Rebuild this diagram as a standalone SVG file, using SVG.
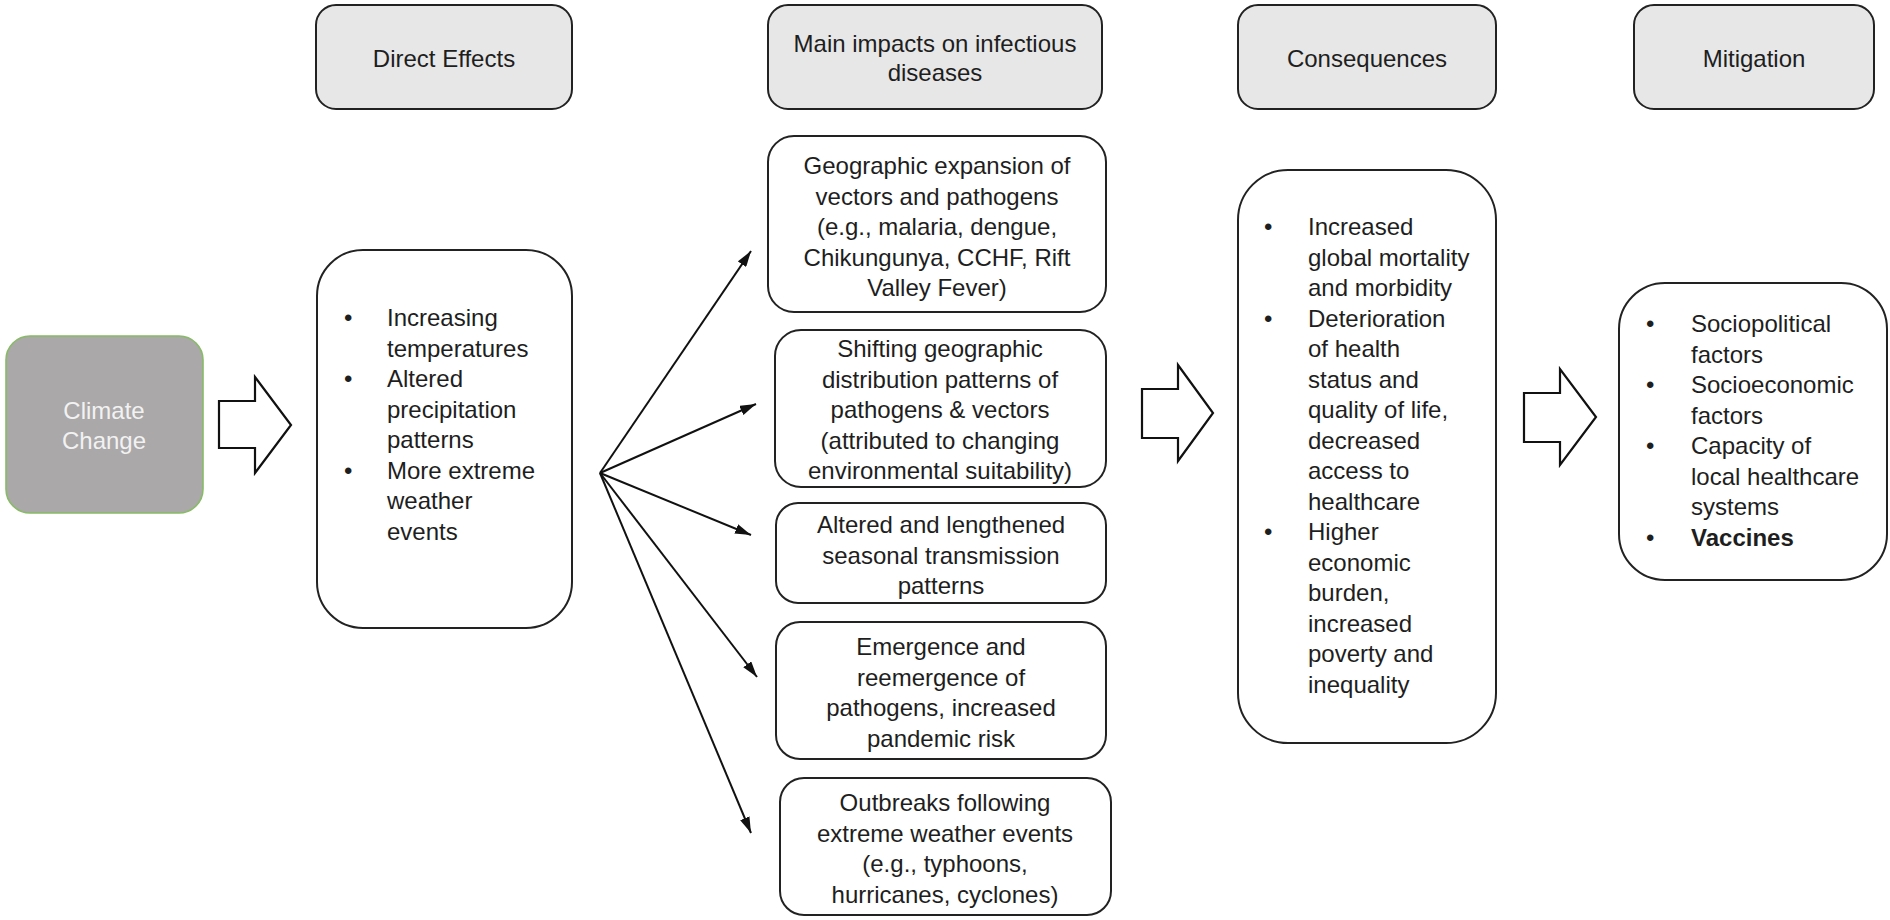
<svg xmlns="http://www.w3.org/2000/svg" width="1890" height="920" viewBox="0 0 1890 920">
<defs>
<style>
.t{font-family:"Liberation Sans",Arial,sans-serif;font-size:24px;fill:#1e1e1e}
.c{text-anchor:middle}
.hdr{fill:#e7e7e7;stroke:#222;stroke-width:2}
.box{fill:#fff;stroke:#222;stroke-width:2}
.big{fill:#fff;stroke:#222;stroke-width:2}
.hollow{fill:#fff;stroke:#111;stroke-width:2.2;stroke-linejoin:miter}
.ln{stroke:#111;stroke-width:2;fill:none}
</style>
<marker id="ah" viewBox="0 0 16 10" refX="16" refY="5" markerWidth="16" markerHeight="10" markerUnits="userSpaceOnUse" orient="auto">
<path d="M0,0 L16,5 L0,10 Z" fill="#111"/>
</marker>
</defs>
<rect width="1890" height="920" fill="#fff"/>

<g id="climate-change">
<rect x="6" y="336" width="197" height="177" rx="24" fill="#aaa8a9" stroke="#88bb66" stroke-width="1.6"/>
<text class="t c" x="104" y="419" style="fill:#f2f2f2">Climate</text>
<text class="t c" x="104" y="449" style="fill:#f2f2f2">Change</text>
</g>

<g id="hdr-direct">
<rect class="hdr" x="316" y="5" width="256" height="104" rx="20"/>
<text class="t c" x="444" y="67">Direct Effects</text>
</g>
<g id="hdr-impacts">
<rect class="hdr" x="768" y="5" width="334" height="104" rx="20"/>
<text class="t c" x="935" y="52">Main impacts on infectious</text>
<text class="t c" x="935" y="81">diseases</text>
</g>
<g id="hdr-consequences">
<rect class="hdr" x="1238" y="5" width="258" height="104" rx="20"/>
<text class="t c" x="1367" y="67">Consequences</text>
</g>
<g id="hdr-mitigation">
<rect class="hdr" x="1634" y="5" width="240" height="104" rx="20"/>
<text class="t c" x="1754" y="67">Mitigation</text>
</g>

<g id="direct-effects">
<rect class="big" x="317" y="250" width="255" height="378" rx="46"/>
<text class="t"><tspan x="344" y="326">•</tspan><tspan x="387" y="326">Increasing</tspan><tspan x="387" y="356.5">temperatures</tspan><tspan x="344" y="387">•</tspan><tspan x="387" y="387">Altered</tspan><tspan x="387" y="417.5">precipitation</tspan><tspan x="387" y="448">patterns</tspan><tspan x="344" y="478.5">•</tspan><tspan x="387" y="478.5">More extreme</tspan><tspan x="387" y="509">weather</tspan><tspan x="387" y="539.5">events</tspan></text>
</g>

<g id="impact-1">
<rect class="box" x="768" y="136" width="338" height="176" rx="26"/>
<text class="t c"><tspan x="937" y="174">Geographic expansion of</tspan><tspan x="937" y="204.5">vectors and pathogens</tspan><tspan x="937" y="235">(e.g., malaria, dengue,</tspan><tspan x="937" y="265.5">Chikungunya, CCHF, Rift</tspan><tspan x="937" y="296">Valley Fever)</tspan></text>
</g>
<g id="impact-2">
<rect class="box" x="775" y="330" width="331" height="157" rx="26"/>
<text class="t c"><tspan x="940" y="357">Shifting geographic</tspan><tspan x="940" y="387.5">distribution patterns of</tspan><tspan x="940" y="418">pathogens &amp; vectors</tspan><tspan x="940" y="448.5">(attributed to changing</tspan><tspan x="940" y="479">environmental suitability)</tspan></text>
</g>
<g id="impact-3">
<rect class="box" x="776" y="503" width="330" height="100" rx="22"/>
<text class="t c"><tspan x="941" y="533">Altered and lengthened</tspan><tspan x="941" y="563.5">seasonal transmission</tspan><tspan x="941" y="594">patterns</tspan></text>
</g>
<g id="impact-4">
<rect class="box" x="776" y="622" width="330" height="137" rx="24"/>
<text class="t c"><tspan x="941" y="655">Emergence and</tspan><tspan x="941" y="685.5">reemergence of</tspan><tspan x="941" y="716">pathogens, increased</tspan><tspan x="941" y="746.5">pandemic risk</tspan></text>
</g>
<g id="impact-5">
<rect class="box" x="780" y="778" width="331" height="137" rx="24"/>
<text class="t c"><tspan x="945" y="811">Outbreaks following</tspan><tspan x="945" y="842">extreme weather events</tspan><tspan x="945" y="872">(e.g., typhoons,</tspan><tspan x="945" y="903">hurricanes, cyclones)</tspan></text>
</g>

<g id="consequences">
<rect class="big" x="1238" y="170" width="258" height="573" rx="50"/>
<text class="t"><tspan x="1264" y="235">•</tspan><tspan x="1308" y="235">Increased</tspan><tspan x="1308" y="265.5">global mortality</tspan><tspan x="1308" y="296">and morbidity</tspan><tspan x="1264" y="326.5">•</tspan><tspan x="1308" y="326.5">Deterioration</tspan><tspan x="1308" y="357">of health</tspan><tspan x="1308" y="387.5">status and</tspan><tspan x="1308" y="418">quality of life,</tspan><tspan x="1308" y="448.5">decreased</tspan><tspan x="1308" y="479">access to</tspan><tspan x="1308" y="509.5">healthcare</tspan><tspan x="1264" y="540">•</tspan><tspan x="1308" y="540">Higher</tspan><tspan x="1308" y="570.5">economic</tspan><tspan x="1308" y="601">burden,</tspan><tspan x="1308" y="631.5">increased</tspan><tspan x="1308" y="662">poverty and</tspan><tspan x="1308" y="692.5">inequality</tspan></text>
</g>

<g id="mitigation">
<rect class="big" x="1619" y="283" width="268" height="297" rx="46"/>
<text class="t"><tspan x="1646" y="332">•</tspan><tspan x="1691" y="332">Sociopolitical</tspan><tspan x="1691" y="362.5">factors</tspan><tspan x="1646" y="393">•</tspan><tspan x="1691" y="393">Socioeconomic</tspan><tspan x="1691" y="423.5">factors</tspan><tspan x="1646" y="454">•</tspan><tspan x="1691" y="454">Capacity of</tspan><tspan x="1691" y="484.5">local healthcare</tspan><tspan x="1691" y="515">systems</tspan><tspan x="1646" y="546">•</tspan><tspan x="1691" y="546" font-weight="bold">Vaccines</tspan></text>
</g>

<g id="connectors">
<path class="hollow" d="M219,401 H255 V377 L291,425 L255,473 V448 H219 Z"/>
<path class="hollow" d="M1142,389 H1178 V365 L1213,413 L1178,461 V438 H1142 Z"/>
<path class="hollow" d="M1524,393 H1560 V369 L1596,417 L1560,465 V442 H1524 Z"/>
<line class="ln" x1="600" y1="473" x2="751" y2="251" marker-end="url(#ah)"/>
<line class="ln" x1="600" y1="473" x2="756" y2="404" marker-end="url(#ah)"/>
<line class="ln" x1="600" y1="473" x2="751" y2="535" marker-end="url(#ah)"/>
<line class="ln" x1="600" y1="473" x2="757" y2="677" marker-end="url(#ah)"/>
<line class="ln" x1="600" y1="473" x2="751" y2="833" marker-end="url(#ah)"/>
</g>
</svg>
